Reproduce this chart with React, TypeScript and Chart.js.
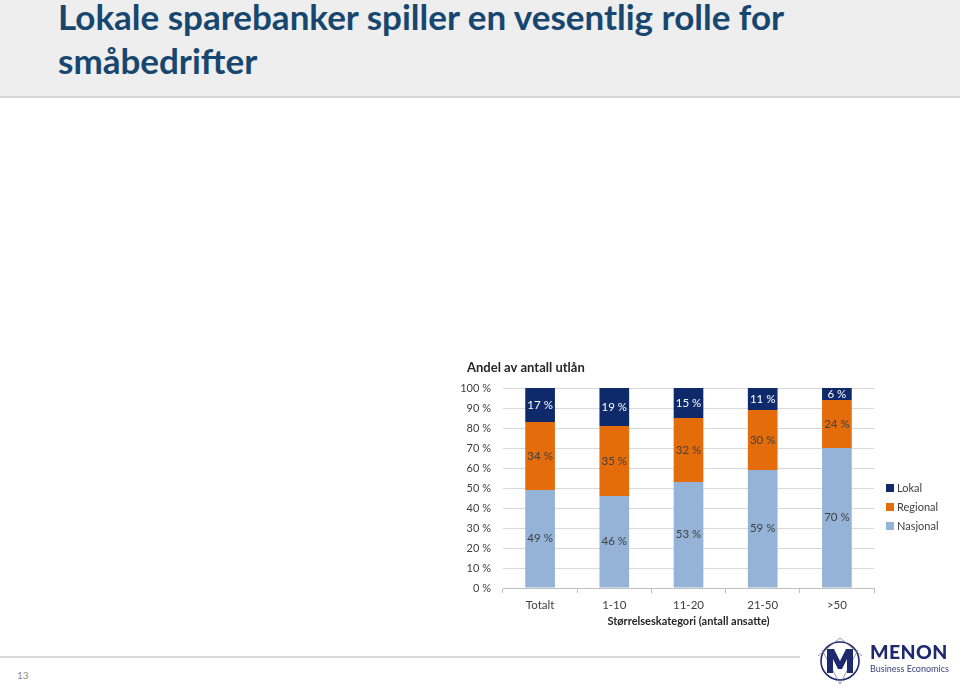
import React, { useEffect, useRef } from "react";
import { Chart, registerables } from "chart.js";

Chart.register(...registerables);

const categories = ["Totalt", "1-10", "11-20", "21-50", ">50"];
const nasjonal = [49, 46, 53, 59, 70];
const regional = [34, 35, 32, 30, 24];
const lokal = [17, 19, 15, 11, 6];
const seriesNames = ["Lokal", "Regional", "Nasjonal"];
const seriesColors = ["#0f2a6b", "#e46c0a", "#95b3d7"];
const chartTitle = "Andel av antall utlån";
const xAxisTitle = "Størrelseskategori (antall ansatte)";
const pageTitle = ["Lokale sparebanker spiller en vesentlig rolle for", "småbedrifter"];

const segLabels = {
  id: "segLabels",
  afterDatasetsDraw(chart: any) {
    const ctx = chart.ctx;
    ctx.save();
    ctx.font = "11.5px Lato";
    ctx.textAlign = "center";
    ctx.textBaseline = "middle";
    chart.data.datasets.forEach((ds: any, i: number) => {
      const meta = chart.getDatasetMeta(i);
      meta.data.forEach((bar: any, j: number) => {
        const p = bar.getProps(["x", "y", "base"], true);
        ctx.fillStyle = ds.labelColor;
        ctx.fillText(`${ds.data[j]} %`, p.x, (p.y + p.base) / 2);
      });
    });
    ctx.restore();
  },
};

const titlePlugin = {
  id: "leftTitle",
  afterDraw(chart: any) {
    const ctx = chart.ctx;
    ctx.save();
    ctx.font = "bold 13px Lato";
    ctx.fillStyle = "#262626";
    ctx.textAlign = "left";
    ctx.textBaseline = "middle";
    ctx.fillText(chartTitle, 27, 13);
    ctx.restore();
  },
};

function StackChart() {
  const ref = useRef<HTMLCanvasElement | null>(null);
  useEffect(() => {
    if (!ref.current) return;
    const chart = new Chart(ref.current, {
      type: "bar",
      data: {
        labels: categories,
        datasets: [
          { label: seriesNames[2], data: nasjonal, backgroundColor: seriesColors[2], labelColor: "#404040" } as any,
          { label: seriesNames[1], data: regional, backgroundColor: seriesColors[1], labelColor: "#404040" } as any,
          { label: seriesNames[0], data: lokal, backgroundColor: seriesColors[0], labelColor: "#ffffff" } as any,
        ],
      },
      options: {
        responsive: false,
        animation: false,
        layout: { padding: { left: 0, right: 86, top: 33, bottom: 0 } },
        datasets: { bar: { barPercentage: 0.4, categoryPercentage: 1 } },
        plugins: {
          legend: { display: false },
          tooltip: { enabled: false },
          title: { display: false },
        },
        scales: {
          x: {
            stacked: true,
            afterFit(scale: any) { scale.height = 47; },
            grid: { display: true, drawOnChartArea: false, drawTicks: true, tickLength: 5, color: "#bfbfbf", offset: true },
            border: { display: true, color: "#bfbfbf" },
            ticks: { color: "#404040", font: { family: "Lato", size: 11.5 }, padding: 5 },
            title: {
              display: true,
              text: xAxisTitle,
              color: "#262626",
              font: { family: "Lato", size: 11, weight: "bold" },
              padding: { top: 7, bottom: 7 },
            },
          },
          y: {
            stacked: true,
            min: 0,
            max: 100,
            afterFit(scale: any) { scale.width = 63; },
            grid: { color: "#d9d9d9", drawTicks: false },
            border: { display: false },
            ticks: {
              stepSize: 10,
              color: "#404040",
              font: { family: "Lato", size: 11 },
              padding: 12,
              callback: (v: any) => `${v} %`,
            },
          },
        },
      } as any,
      plugins: [segLabels, titlePlugin],
    });
    return () => chart.destroy();
  }, []);
  return (
    <canvas ref={ref} width={520} height={280} style={{ position: "absolute", left: 440, top: 355 }} />
  );
}

function Logo() {
  const navy = "#1f2a6e";
  return (
    <div style={{ position: "absolute", left: 814, top: 636, width: 146, height: 51 }}>
      <svg width={52} height={51} style={{ position: "absolute", left: 0, top: 0 }}>
        <circle cx={26} cy={25} r={19} fill="none" stroke={navy} strokeWidth={1.6} />
        <polyline points="4,20 26,2 48,20" fill="none" stroke="#6b7090" strokeWidth={0.7} />
        <polyline points="8,14 26,48 44,14" fill="none" stroke="#6b7090" strokeWidth={0.7} />
        <polygon points="13,13 20,13 26,25 32,13 39,13 39,37 33,37 33,23 28,33 24,33 19,23 19,37 13,37" fill={navy} />
      </svg>
      <div style={{ position: "absolute", left: 56, top: 5, fontFamily: "Lato", fontWeight: 900, fontSize: 19.5, color: navy, letterSpacing: 0.4, lineHeight: "22px" }}>MENON</div>
      <div style={{ position: "absolute", left: 56, top: 27, fontFamily: "Lato", fontSize: 9, color: "#3a3f7a", lineHeight: "11px", whiteSpace: "nowrap" }}>Business Economics</div>
    </div>
  );
}

export default function App() {
  return (
    <div style={{ position: "absolute", left: 0, top: 0, width: 960, height: 687, background: "#ffffff", overflow: "hidden" }}>
      <div style={{ position: "absolute", left: 0, top: 0, width: 960, height: 96, background: "#eeeeee", borderBottom: "2px solid #d6d6d6" }} />
      <div style={{ position: "absolute", left: 58, top: -6, fontFamily: "Lato", fontWeight: 700, fontSize: 35, lineHeight: "44px", color: "#17476f", whiteSpace: "nowrap" }}>
        {pageTitle[0]}
        <br />
        {pageTitle[1]}
      </div>
      <StackChart />
      <div style={{ position: "absolute", left: 886, top: 478, fontFamily: "Lato", fontSize: 11, color: "#404040" }}>
        {seriesNames.map((n, i) => (
          <div key={n} style={{ display: "flex", alignItems: "center", height: 19 }}>
            <span style={{ display: "inline-block", width: 8, height: 8, background: seriesColors[i], marginRight: 3 }} />
            <span>{n}</span>
          </div>
        ))}
      </div>
      <div style={{ position: "absolute", left: 0, top: 656, width: 800, height: 2, background: "#d9d9d9" }} />
      <div style={{ position: "absolute", left: 17, top: 669, fontFamily: "Lato", fontSize: 10, color: "#8c8c8c" }}>13</div>
      <Logo />
    </div>
  );
}
